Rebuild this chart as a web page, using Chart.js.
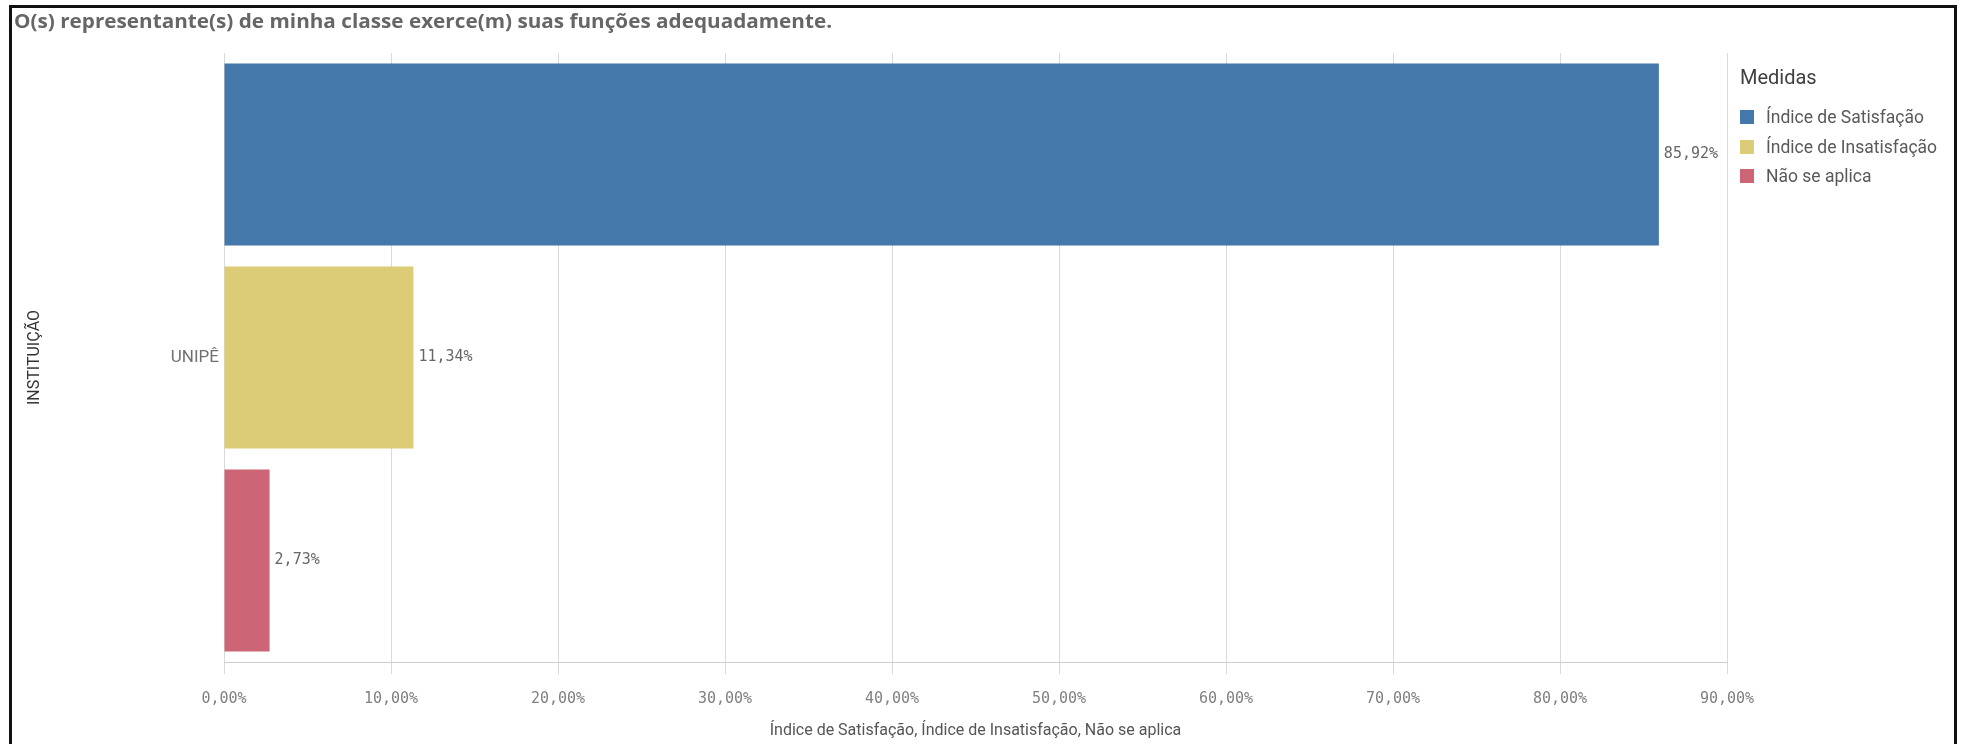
<!DOCTYPE html>
<html>
<head>
<meta charset="utf-8">
<script src="https://cdn.jsdelivr.net/npm/chart.js@4.4.0/dist/chart.umd.js"></script>
<style>
    body { margin: 0; width: 1965px; height: 744px; overflow: hidden; background: #fff; position: relative; font-family: Roboto, sans-serif; }
    #frame { position: absolute; left: 9px; top: 5px; width: 1948px; height: 800px; border: 3px solid #111; box-sizing: border-box; }
    #chartTitle { position: absolute; left: 14px; top: 7px; font-family: "Open Sans", sans-serif; font-size: 20px; font-weight: bold; color: #666; white-space: nowrap; transform-origin: 0 0; }
    #chartWrap { position: absolute; left: 0; top: 0; width: 1965px; height: 744px; }
    #legend { position: absolute; left: 1740px; top: 62px; color: #595959; }
    #legend .head { font-size: 20px; color: #404040; height: 30px; line-height: 30px; margin-bottom: 15px; }
    #legend .item { font-size: 17.5px; height: 29.5px; line-height: 20px; position: relative; padding-left: 26px; }
    #legend .box { position: absolute; left: 0; top: 3px; width: 14px; height: 14px; }
</style>
</head>
<body>
<div id="frame"></div>
<div id="chartWrap"><canvas id="chart" width="1965" height="744"></canvas></div>
<div id="chartTitle">O(s) representante(s) de minha classe exerce(m) suas funções adequadamente.</div>
<div id="legend"></div>
<script>
// Data
const categories = ['UNIPÊ'];
const seriesNames = ['Índice de Satisfação', 'Índice de Insatisfação', 'Não se aplica'];
const satisfacao = [85.92];
const insatisfacao = [11.34];
const naoSeAplica = [2.73];
const seriesColors = ['#4477aa', '#ddcc77', '#cc6677'];
const xMax = 90;
const xStep = 10;
const xAxisTitle = 'Índice de Satisfação, Índice de Insatisfação, Não se aplica';
const yAxisTitle = 'INSTITUIÇÃO';
const legendTitle = 'Medidas';

function fmtPct(v) {
    return v.toFixed(2).replace('.', ',') + '%';
}

// Fit title width like the reference
const titleEl = document.getElementById('chartTitle');
titleEl.style.transform = 'scaleX(' + (818 / titleEl.offsetWidth) + ')';

// HTML legend
const legendEl = document.getElementById('legend');
let legendHtml = '<div class="head">' + legendTitle + '</div>';
seriesNames.forEach((name, i) => {
    legendHtml += '<div class="item"><span class="box" style="background:' + seriesColors[i] + '"></span>' + name + '</div>';
});
legendEl.innerHTML = legendHtml;

// Value labels at the end of each bar
const barLabels = {
    id: 'barLabels',
    afterDatasetsDraw(chart) {
        const ctx = chart.ctx;
        ctx.save();
        ctx.font = '15px "DejaVu Sans Mono", monospace';
        ctx.fillStyle = '#666';
        ctx.textAlign = 'left';
        ctx.textBaseline = 'middle';
        chart.data.datasets.forEach((ds, i) => {
            const meta = chart.getDatasetMeta(i);
            meta.data.forEach((bar, j) => {
                ctx.fillText(fmtPct(ds.data[j]), bar.x + 5, bar.y);
            });
        });
        ctx.restore();
    }
};

const seriesData = [satisfacao, insatisfacao, naoSeAplica];

new Chart(document.getElementById('chart'), {
    type: 'bar',
    data: {
        labels: categories,
        datasets: seriesNames.map((name, i) => ({
            label: name,
            data: seriesData[i],
            backgroundColor: seriesColors[i],
            borderWidth: 0,
            barPercentage: 0.897,
            categoryPercentage: 1
        }))
    },
    plugins: [barLabels],
    options: {
        indexAxis: 'y',
        responsive: false,
        animation: false,
        layout: {
            padding: { left: 20, top: 53, right: 238, bottom: 0 }
        },
        plugins: {
            legend: { display: false },
            tooltip: { enabled: false }
        },
        scales: {
            x: {
                min: 0,
                max: xMax,
                afterFit(scale) { scale.height = 82; },
                ticks: {
                    stepSize: xStep,
                    color: '#808080',
                    padding: 16,
                    font: { family: '"DejaVu Sans Mono", monospace', size: 15 },
                    callback: (v) => fmtPct(v)
                },
                grid: {
                    color: '#d9d9d9',
                    tickColor: '#d9d9d9',
                    tickLength: 12
                },
                border: { color: '#cccccc' },
                title: {
                    display: true,
                    text: xAxisTitle,
                    color: '#555',
                    font: { family: 'Roboto', size: 16 },
                    padding: { top: 3, bottom: 3 }
                }
            },
            y: {
                afterFit(scale) { scale.width = 204; },
                ticks: {
                    color: '#707070',
                    padding: 5,
                    font: { family: 'Roboto', size: 17 }
                },
                grid: { display: false, drawTicks: false },
                border: { display: false },
                title: {
                    display: true,
                    text: yAxisTitle,
                    color: '#333',
                    font: { family: 'Roboto', size: 16 },
                    padding: { top: 5, bottom: 5 }
                }
            }
        }
    }
});
</script>
</body>
</html>
